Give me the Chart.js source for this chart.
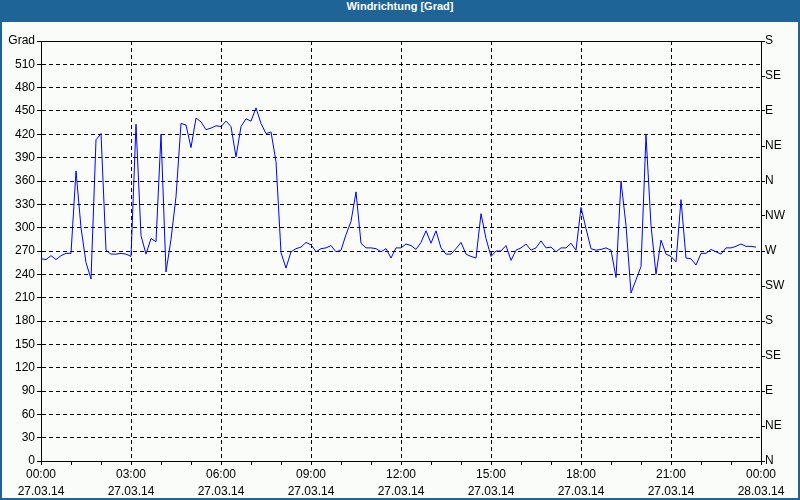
<!DOCTYPE html>
<html>
<head>
<meta charset="utf-8">
<script src="https://cdn.jsdelivr.net/npm/chart.js@4.4.1/dist/chart.umd.min.js"></script>
<style>
    body { margin: 0; width: 800px; height: 500px; background: #1e6496; overflow: hidden; }
    #title { height: 22px; line-height: 22px; text-align: center; color: #fff;
             font: bold 11px "Liberation Sans", Arial, sans-serif; }
    #wrap { position: absolute; left: 2px; top: 22px; width: 796px; height: 476px; background: #f9fcf9; }
</style>
</head>
<body>
<div id="title">Windrichtung [Grad]</div>
<div id="wrap"><canvas id="windChart" width="796" height="476"></canvas></div>
<script>
// one value every 10 minutes, 27.03.14 00:00 .. 23:50
const windDir = [
    260, 259, 264, 259, 264, 267, 267, 373, 300, 255, 234, 413, 421, 271, 266, 266, 267, 266,
    263, 433, 290, 266, 286, 282, 420, 243, 285, 340, 434, 432, 403, 441, 436, 426, 428, 431,
    430, 437, 430, 391, 430, 440, 437, 454, 434, 421, 423, 385, 268, 248, 269, 273, 275, 281,
    278, 269, 273, 274, 277, 269, 271, 291, 308, 346, 280, 274, 274, 273, 269, 273, 261, 274,
    274, 279, 277, 272, 281, 296, 280, 296, 274, 266, 266, 273, 281, 266, 263, 261, 318, 286,
    263, 270, 270, 277, 258, 271, 274, 279, 271, 274, 283, 274, 275, 269, 274, 274, 280, 271,
    326, 299, 273, 271, 272, 274, 271, 236, 360, 303, 216, 233, 250, 419, 303, 240, 284, 266,
    263, 256, 336, 261, 260, 252, 267, 267, 272, 269, 266, 274, 274, 276, 279, 276, 276, 275
];
const sampleMinutes = 10;
const timeLabels = ['00:00', '03:00', '06:00', '09:00', '12:00', '15:00', '18:00', '21:00', '00:00'];
const dateLabels = ['27.03.14', '27.03.14', '27.03.14', '27.03.14', '27.03.14', '27.03.14', '27.03.14', '27.03.14', '28.03.14'];
const compassLabels = ['N', 'NE', 'E', 'SE', 'S', 'SW', 'W', 'NW', 'N', 'NE', 'E', 'SE', 'S'];

Chart.defaults.font.family = '"Liberation Sans", Arial, sans-serif';
Chart.defaults.font.size = 12;
Chart.defaults.color = '#000';

const frame = {
    id: 'frame',
    afterDraw(chart) {
        const a = chart.chartArea, c = chart.ctx;
        c.save();
        c.strokeStyle = '#000';
        c.lineWidth = 1;
        c.beginPath();
        c.moveTo(a.left, a.top + 0.5);
        c.lineTo(a.right, a.top + 0.5);
        c.stroke();
        c.restore();
    }
};

const ctx = document.getElementById('windChart').getContext('2d');
new Chart(ctx, {
    type: 'line',
    data: {
        datasets: [{
            data: windDir.map((v, i) => ({ x: i * sampleMinutes, y: v })),
            borderColor: '#0000ff',
            borderWidth: 1,
            pointRadius: 0,
            tension: 0,
            yAxisID: 'y'
        }]
    },
    plugins: [frame],
    options: {
        responsive: false,
        animation: false,
        layout: { padding: { top: 19 } },
        plugins: { legend: { display: false }, tooltip: { enabled: false } },
        scales: {
            x: {
                type: 'linear',
                min: 0,
                max: 1440,
                afterFit: s => { s.height = 37; },
                border: { color: '#000', dash: [4, 3] },
                grid: {
                    color: c => (c.tick.value % 180 === 0 && c.tick.value > 0 && c.tick.value < 1440) ? '#000' : 'rgba(0,0,0,0)',
                    tickColor: '#000',
                    tickBorderDash: [],
                    tickLength: 4
                },
                ticks: {
                    stepSize: 60,
                    autoSkip: false,
                    maxRotation: 0,
                    padding: 2,
                    font: { lineHeight: 1.35 },
                    callback: v => v % 180 === 0 ? [timeLabels[v / 180], dateLabels[v / 180]] : ''
                }
            },
            y: {
                min: 0,
                max: 540,
                afterFit: s => { s.width = 39; },
                border: { color: '#000', dash: [4, 3] },
                grid: {
                    color: c => (c.tick.value > 0 && c.tick.value < 540) ? '#000' : 'rgba(0,0,0,0)',
                    tickColor: '#000',
                    tickBorderDash: [],
                    tickLength: 4
                },
                ticks: {
                    stepSize: 30,
                    padding: 2,
                    callback: v => v === 540 ? 'Grad' : v
                }
            },
            y2: {
                position: 'right',
                min: 0,
                max: 540,
                afterFit: s => { s.width = 37; },
                border: { color: '#000' },
                grid: {
                    drawOnChartArea: false,
                    tickColor: '#000',
                    tickLength: 4
                },
                ticks: {
                    stepSize: 45,
                    padding: 0,
                    callback: v => compassLabels[v / 45]
                }
            }
        }
    }
});
</script>
</body>
</html>
